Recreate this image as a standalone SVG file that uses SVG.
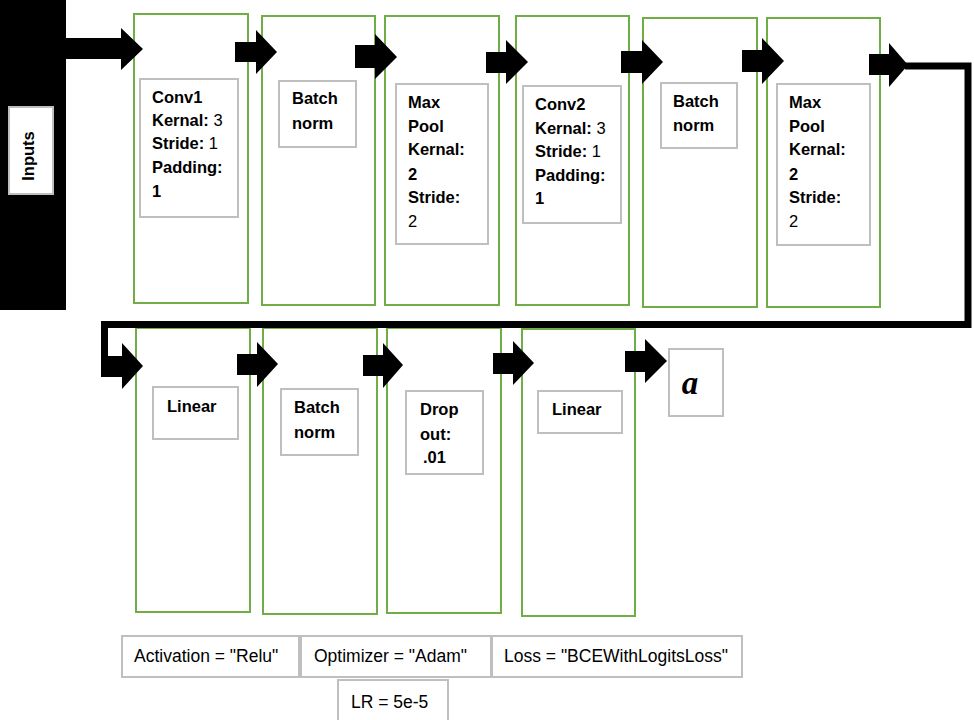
<svg xmlns="http://www.w3.org/2000/svg" width="974" height="720" viewBox="0 0 974 720">
  <style>
    .col { fill: #ffffff; stroke: #70AD47; stroke-width: 2; }
    .box { fill: #ffffff; stroke: #BFBFBF; stroke-width: 2; }
    .t { font-family: "Liberation Sans", Arial, sans-serif; font-size: 16.5px; font-weight: bold; fill: #000000; }
    .n { font-weight: normal; }
    .p { font-family: "Liberation Sans", Arial, sans-serif; font-size: 17.5px; fill: #000000; }
    .arrow { fill: #000000; }
    .loop { fill: none; stroke: #000000; stroke-width: 7; stroke-linejoin: miter; }
  </style>

  <!-- input bar -->
  <g id="inputs">
    <rect x="0" y="0" width="66" height="310" fill="#000000"/>
    <rect x="9" y="107" width="44" height="87" class="box"/>
    <text class="t" font-size="16" transform="translate(34,156) rotate(-90)" text-anchor="middle">Inputs</text>
  </g>

  <!-- first row of layers -->
  <g id="conv1">
    <rect x="134" y="14" width="114" height="289" class="col"/>
    <rect x="140" y="79" width="98" height="138" class="box"/>
    <text class="t" x="152" y="103">Conv1</text>
    <text class="t" x="152" y="126">Kernal:<tspan class="n"> 3</tspan></text>
    <text class="t" x="152" y="149">Stride:<tspan class="n"> 1</tspan></text>
    <text class="t" x="152" y="173">Padding:</text>
    <text class="t" x="152" y="197">1</text>
  </g>
  <g id="batchnorm1">
    <rect x="262" y="16" width="113" height="289" class="col"/>
    <rect x="279" y="81" width="77" height="66" class="box"/>
    <text class="t" x="292" y="104">Batch</text>
    <text class="t" x="292" y="129">norm</text>
  </g>
  <g id="maxpool1">
    <rect x="385" y="16" width="114" height="289" class="col"/>
    <rect x="396" y="84" width="92" height="160" class="box"/>
    <text class="t" x="408" y="108">Max</text>
    <text class="t" x="408" y="132">Pool</text>
    <text class="t" x="408" y="155">Kernal:</text>
    <text class="t" x="408" y="180">2</text>
    <text class="t" x="408" y="203">Stride:</text>
    <text class="t n" x="408" y="227">2</text>
  </g>
  <g id="conv2">
    <rect x="516" y="16" width="113" height="289" class="col"/>
    <rect x="523" y="86" width="98" height="137" class="box"/>
    <text class="t" x="535" y="110">Conv2</text>
    <text class="t" x="535" y="134">Kernal:<tspan class="n"> 3</tspan></text>
    <text class="t" x="535" y="157">Stride:<tspan class="n"> 1</tspan></text>
    <text class="t" x="535" y="181">Padding:</text>
    <text class="t" x="535" y="204">1</text>
  </g>
  <g id="batchnorm2">
    <rect x="643" y="18" width="114" height="289" class="col"/>
    <rect x="661" y="83" width="76" height="65" class="box"/>
    <text class="t" x="673" y="107">Batch</text>
    <text class="t" x="673" y="131">norm</text>
  </g>
  <g id="maxpool2">
    <rect x="767" y="18" width="113" height="289" class="col"/>
    <rect x="777" y="84" width="93" height="161" class="box"/>
    <text class="t" x="789" y="108">Max</text>
    <text class="t" x="789" y="132">Pool</text>
    <text class="t" x="789" y="155">Kernal:</text>
    <text class="t" x="789" y="180">2</text>
    <text class="t" x="789" y="203">Stride:</text>
    <text class="t n" x="789" y="227">2</text>
  </g>

  <!-- second row of layers -->
  <g id="linear1">
    <rect x="136" y="328" width="114" height="284" class="col"/>
    <rect x="153" y="387" width="85" height="52" class="box"/>
    <text class="t" x="167" y="412">Linear</text>
  </g>
  <g id="batchnorm3">
    <rect x="263" y="328" width="114" height="286" class="col"/>
    <rect x="281" y="389" width="77" height="66" class="box"/>
    <text class="t" x="294" y="413">Batch</text>
    <text class="t" x="294" y="438">norm</text>
  </g>
  <g id="dropout">
    <rect x="387" y="328" width="114" height="285" class="col"/>
    <rect x="406" y="391" width="77" height="83" class="box"/>
    <text class="t" x="420" y="415">Drop</text>
    <text class="t" x="420" y="440">out:</text>
    <text class="t" x="423" y="463">.01</text>
  </g>
  <g id="linear2">
    <rect x="522" y="329" width="113" height="287" class="col"/>
    <rect x="538" y="391" width="84" height="42" class="box"/>
    <text class="t" x="552" y="415">Linear</text>
  </g>
  <g id="output">
    <rect x="669" y="349" width="54" height="67" class="box"/>
    <text x="690" y="394" text-anchor="middle" font-family="Liberation Serif, 'DejaVu Serif', serif" font-size="33" font-weight="bold" font-style="italic">a</text>
  </g>

  <!-- hyperparameters -->
  <g id="activation">
    <rect x="122" y="636" width="177" height="41" class="box"/>
    <text class="p" x="134" y="662">Activation = "Relu"</text>
  </g>
  <g id="optimizer">
    <rect x="301" y="636" width="190" height="41" class="box"/>
    <text class="p" x="314" y="662">Optimizer = "Adam"</text>
  </g>
  <g id="loss">
    <rect x="492" y="636" width="250" height="41" class="box"/>
    <text class="p" x="504" y="662">Loss = "BCEWithLogitsLoss"</text>
  </g>
  <g id="lr">
    <rect x="338" y="680" width="110" height="42" class="box"/>
    <text class="p" x="351" y="708">LR = 5e-5</text>
  </g>

  <!-- connectors -->
  <g id="connectors">
    <path class="loop" d="M905,66 H968 V324.5 H104.5 V370"/>
    <polygon class="arrow" points="66,38 121,38 121,28 143,49 121,70 121,59 66,59"/>
    <polygon class="arrow" points="235,42 256,42 256,30 277,52 256,74 256,62 235,62"/>
    <polygon class="arrow" points="355,45 375,45 375,34 397,57 375,79 375,68 355,68"/>
    <polygon class="arrow" points="486,52 506,52 506,40 528,62 506,84 506,73 486,73"/>
    <polygon class="arrow" points="621,51 642,51 642,40 663,62 642,84 642,73 621,73"/>
    <polygon class="arrow" points="742,50 762,50 762,38 784,61 762,84 762,72 742,72"/>
    <polygon class="arrow" points="869,54 889,54 889,43 908,65 889,87 889,75 869,75"/>
    <polygon class="arrow" points="101,356 122,356 122,343 143,366 122,389 122,377 101,377"/>
    <polygon class="arrow" points="237,354 257,354 257,342 278,364 257,387 257,375 237,375"/>
    <polygon class="arrow" points="363,355 383,355 383,343 403,365 383,388 383,376 363,376"/>
    <polygon class="arrow" points="493,353 513,353 513,341 534,363 513,385 513,374 493,374"/>
    <polygon class="arrow" points="625,351 645,351 645,339 667,361 645,383 645,372 625,372"/>
  </g>
</svg>
